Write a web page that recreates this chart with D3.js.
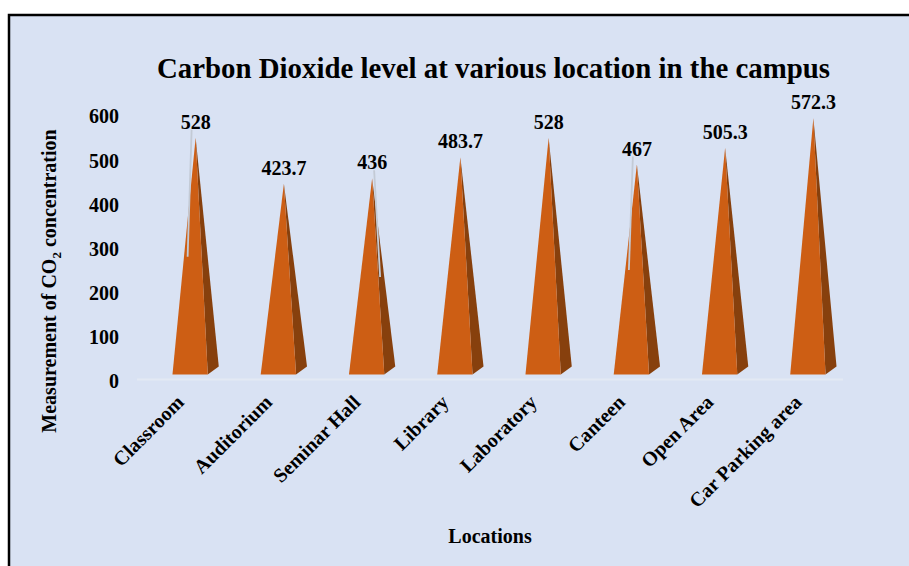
<!DOCTYPE html>
<html>
<head>
<meta charset="utf-8">
<script src="https://cdn.jsdelivr.net/npm/d3@7"></script>
<style>
  body { margin: 0; background: #ffffff; }
</style>
</head>
<body>
<div id="viz"></div>
<script>
// data
const locations = ["Classroom", "Auditorium", "Seminar Hall", "Library", "Laboratory", "Canteen", "Open Area", "Car Parking area"]
const co2Values = [528, 423.7, 436, 483.7, 528, 467, 505.3, 572.3]
const yTicks = [0, 100, 200, 300, 400, 500, 600]
// stray leader lines of moved labels (value where the line ends, lean)
const leaderLocations = ["Classroom", "Seminar Hall", "Canteen"]
const leaderEndValues = [258, 212, 228]
const leaderLean = [-1, 1, -1]

const width = 909
const height = 566
const font = "'Liberation Serif', 'Times New Roman', serif"

const svg = d3.select("#viz").append("svg")
  .attr("width", width)
  .attr("height", height)

// chart area with border on top and left
svg.append("rect")
  .attr("x", 10)
  .attr("y", 16)
  .attr("width", width - 10)
  .attr("height", height - 16)
  .attr("fill", "#d9e2f3")

svg.append("path")
  .attr("d", "M9,566 V15 H909")
  .attr("fill", "none")
  .attr("stroke", "#000")
  .attr("stroke-width", 2.5)

// title
svg.append("text")
  .attr("x", 157)
  .attr("y", 78)
  .attr("textLength", 673)
  .attr("lengthAdjust", "spacingAndGlyphs")
  .attr("font-family", font)
  .attr("font-size", 29)
  .attr("font-weight", "bold")
  .attr("fill", "#000")
  .text("Carbon  Dioxide level at various  location in the campus")

// scales
const x = d3.scaleBand()
  .domain(locations)
  .range([146, 852])
  .paddingInner(0.6)
  .paddingOuter(0.3)

const y = d3.scaleLinear()
  .domain([0, 600])
  .range([370.5, 105.9])

// 3D depth of the pyramids
const depthX = 11
const depthY = 8
const frontY = y(0) + depthY / 2
const backY = y(0) - depthY / 2

// floor line
svg.append("line")
  .attr("x1", x.range()[0] - 9)
  .attr("x2", x.range()[1] - 9)
  .attr("y1", frontY + 5)
  .attr("y2", frontY + 5)
  .attr("stroke", "#e3e9f4")
  .attr("stroke-width", 2)

// y tick labels
svg.selectAll(".ytick")
  .data(yTicks)
  .enter()
  .append("text")
  .attr("class", "ytick")
  .attr("x", 119)
  .attr("y", d => y(d) + 10.5)
  .attr("dy", "0.35em")
  .attr("text-anchor", "end")
  .attr("font-family", font)
  .attr("font-size", 20)
  .attr("font-weight", "bold")
  .text(d => d)

// y axis title
const yTitle = svg.append("text")
  .attr("transform", "translate(56,281) rotate(-90)")
  .attr("text-anchor", "middle")
  .attr("font-family", font)
  .attr("font-size", 20)
  .attr("font-weight", "bold")
yTitle.append("tspan").text("Measurement of CO")
yTitle.append("tspan").attr("font-size", 13).attr("dy", 5).text("2")
yTitle.append("tspan").attr("dy", -5).text(" concentration")

// pyramids
const tipX = d => x(d.loc) + x.bandwidth() / 2 + depthX / 2
const rows = locations.map((loc, i) => ({ loc: loc, value: co2Values[i] }))

const pyr = svg.selectAll(".pyr")
  .data(rows)
  .enter()
  .append("g")
  .attr("class", "pyr")

pyr.append("path")
  .attr("d", d => {
    const x0 = x(d.loc), x1 = x0 + x.bandwidth()
    return `M${x1},${frontY} L${x1 + depthX},${backY} L${tipX(d)},${y(d.value)} Z`
  })
  .attr("fill", "#87400d")

pyr.append("path")
  .attr("d", d => {
    const x0 = x(d.loc), x1 = x0 + x.bandwidth()
    return `M${x0},${frontY} L${x1},${frontY} L${tipX(d)},${y(d.value)} Z`
  })
  .attr("fill", "#cd5e14")

// leader lines
leaderLocations.forEach((loc, i) => {
  const d = rows.find(r => r.loc === loc)
  const lean = leaderLean[i]
  svg.append("line")
    .attr("x1", tipX(d) - 4 + (lean > 0 ? 6 : 0))
    .attr("y1", y(d.value) - 8)
    .attr("x2", tipX(d) + lean * 8)
    .attr("y2", y(leaderEndValues[i]))
    .attr("stroke", "#c3cad5")
    .attr("stroke-width", 1.8)
})

// data labels
svg.selectAll(".vlabel")
  .data(rows)
  .enter()
  .append("text")
  .attr("class", "vlabel")
  .attr("x", d => tipX(d))
  .attr("y", d => y(d.value) - 9)
  .attr("text-anchor", "middle")
  .attr("font-family", font)
  .attr("font-size", 20)
  .attr("font-weight", "bold")
  .text(d => d.value)

// x tick labels
svg.selectAll(".xtick")
  .data(locations)
  .enter()
  .append("text")
  .attr("class", "xtick")
  .attr("transform", d => `translate(${x(d) + x.bandwidth() / 2 - 5},${frontY + 29}) rotate(-45)`)
  .attr("text-anchor", "end")
  .attr("font-family", font)
  .attr("font-size", 20)
  .attr("font-weight", "bold")
  .text(d => d)

// x axis title
svg.append("text")
  .attr("x", 490)
  .attr("y", 543)
  .attr("text-anchor", "middle")
  .attr("font-family", font)
  .attr("font-size", 20)
  .attr("font-weight", "bold")
  .text("Locations")
</script>
</body>
</html>
